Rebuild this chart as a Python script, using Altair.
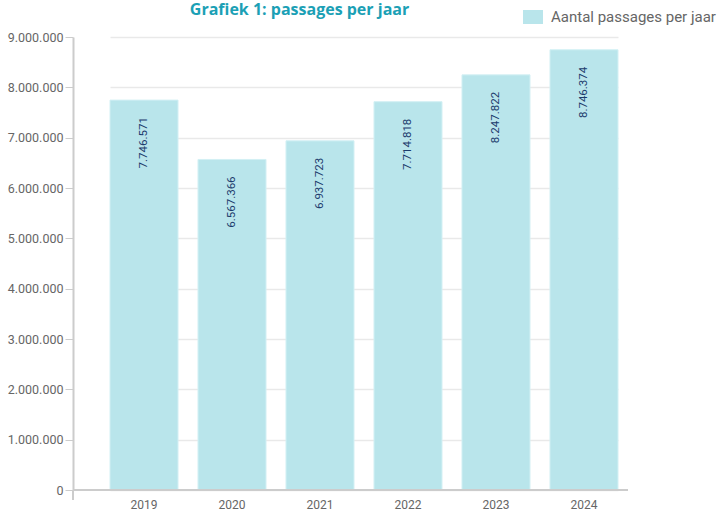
import altair as alt
import pandas as pd

years = ["2019", "2020", "2021", "2022", "2023", "2024"]
passages = [7746571, 6567366, 6937723, 7714818, 8247822, 8746374]
series_name = "Aantal passages per jaar"
title_text = "Grafiek 1: passages per jaar"
y_ticks = [0, 1000000, 2000000, 3000000, 4000000, 5000000, 6000000, 7000000, 8000000, 9000000]

df = pd.DataFrame({"jaar": years, "passages": passages, "reeks": [series_name] * len(years)})

bar_color = "#b9e5eb"
grey = "#666666"

x_enc = alt.X(
    "jaar:N",
    sort=years,
    scale=alt.Scale(range=[37, 545], paddingInner=0.227, paddingOuter=0),
    axis=alt.Axis(title=None, ticks=False, domain=False, grid=False, labelAngle=0,
                  labelColor=grey, labelFontSize=12, labelFont="Roboto", labelPadding=9),
)
y_enc = alt.Y(
    "passages:Q",
    scale=alt.Scale(domain=[0, 9000000], nice=False),
    axis=alt.Axis(title=None, values=y_ticks, format=",d", labelColor=grey, labelFontSize=12.5,
                  labelFont="Roboto", tickSize=8, tickColor="#cccccc", labelPadding=2,
                  domainColor="#cccccc", domainWidth=2, gridColor="#e9e9e9", gridWidth=1.5),
)

bars = alt.Chart(df).mark_bar(stroke="#d3f0f4", strokeWidth=1).encode(
    x=x_enc,
    y=y_enc,
    color=alt.Color(
        "reeks:N",
        scale=alt.Scale(range=[bar_color]),
        legend=alt.Legend(title=None, orient="none", legendX=450, legendY=-30,
                          symbolType="M-1,-0.7H1V0.7H-1Z", symbolSize=400, symbolStrokeWidth=0,
                          labelFontSize=15, labelColor=grey, labelFont="Roboto", labelOffset=8,
                          labelLimit=400),
    ),
)

labels = alt.Chart(df).mark_text(
    angle=270, align="right", baseline="middle", dx=-17, fontSize=11.5, font="Roboto", color="#1b3a6b"
).encode(
    x=alt.X("jaar:N", sort=years),
    y=alt.Y("passages:Q"),
    text=alt.Text("passages:Q", format=",d"),
)

xline = alt.Chart(df).mark_rule(color="#cccccc", strokeWidth=2).encode(y=alt.datum(0))
ystub = alt.Chart(df).mark_rule(color="#cccccc", strokeWidth=2).encode(
    x=alt.value(0), y=alt.value(453), y2=alt.value(463)
)

chart = alt.layer(bars, xline, ystub, labels).properties(
    width=555,
    height=453,
    autosize=alt.AutoSizeParams(type="none"),
    padding={"left": 73, "top": 37, "right": 89, "bottom": 23},
    background="white",
    title=alt.TitleParams(title_text, fontSize=16, fontWeight="bold", font="Open Sans",
                          color="#1ba0b5", baseline="alphabetic", offset=-24, dx=-51,
                          anchor="middle"),
).configure_view(stroke=None)

chart.save("out.html", embed_options={
    "renderer": "svg", "actions": False,
    "formatLocale": {"decimal": ",", "thousands": ".", "grouping": [3], "currency": ["€", ""]},
})
